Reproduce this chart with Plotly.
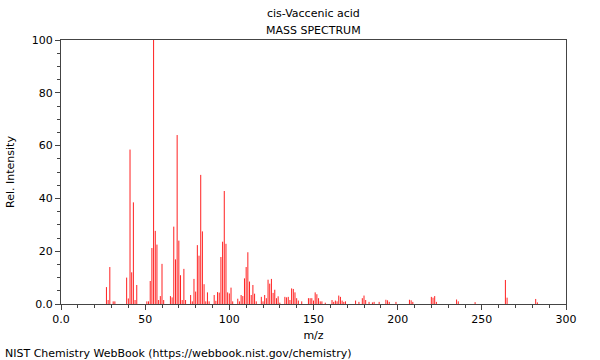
import plotly.graph_objects as go

title_main = "cis-Vaccenic acid"
title_sub = "MASS SPECTRUM"
footer = "NIST Chemistry WebBook (https://webbook.nist.gov/chemistry)"

mz = [27, 28, 29, 31, 32, 39, 40, 41, 42, 43, 44, 45, 51, 52, 53, 54, 55, 56, 57, 58,
      59, 60, 61, 65, 66, 67, 68, 69, 70, 71, 72, 73, 74, 77, 78, 79, 80, 81, 82, 83,
      84, 85, 86, 87, 88, 91, 92, 93, 94, 95, 96, 97, 98, 99, 100, 101, 102, 105, 106, 107,
      108, 109, 110, 111, 112, 113, 114, 115, 116, 119, 120, 121, 122, 123, 124, 125, 126, 127, 128, 129,
      130, 133, 134, 135, 136, 137, 138, 139, 140, 141, 143, 147, 148, 149, 150, 151, 152, 153, 154, 155,
      157, 161, 162, 163, 164, 165, 166, 167, 168, 169, 175, 177, 179, 180, 181, 183, 185, 186, 189, 193,
      194, 195, 199, 207, 208, 209, 220, 221, 222, 223, 235, 236, 246, 264, 265, 282, 283]
intensity = [6.4, 1.5, 14, 1, 1, 10, 2.1, 58.5, 12, 38.5, 1.5, 7.2, 1, 1, 8.7, 21.2, 100, 27.7, 22.5, 1.5,
             3, 15.2, 1.5, 3, 2.5, 29.3, 16.9, 64, 24, 10.9, 1.5, 13.3, 1.5, 3.4, 1, 9.5, 4.7, 22.3, 18.3, 48.9,
             27.5, 7.5, 1, 4.4, 1, 3.4, 1.2, 4.5, 4.3, 17.8, 23.6, 42.8, 22.8, 4.4, 4, 6.2, 1, 2, 1, 3.4,
             3, 9.7, 14, 19.6, 8.5, 3.4, 7.2, 3.9, 1, 2.7, 1, 3.4, 2.2, 9.2, 7.7, 9.5, 4.2, 5.4, 2.2, 2.9,
             0.5, 2.7, 2.5, 2.7, 1.5, 5.9, 5.7, 4.4, 2.2, 1.3, 1, 2.2, 2.2, 2.2, 1.3, 4.4, 3.7, 2.2, 1, 1,
             0.5, 1.5, 0.8, 1.3, 1, 3.2, 2.7, 1.3, 0.8, 1, 1.3, 0.8, 2.2, 3.2, 1.5, 0.8, 0.6, 0.8, 0.8, 1.6,
             1.4, 0.8, 0.8, 1.6, 1.4, 0.8, 2.7, 2.4, 3, 0.8, 1.7, 1, 0.7, 9.1, 2.4, 1.9, 0.6]

x_ticks = [0, 50, 100, 150, 200, 250, 300]
x_ticklabels = ["0.0", "50", "100", "150", "200", "250", "300"]
y_ticks = [0, 20, 40, 60, 80, 100]
y_ticklabels = ["0.0", "20", "40", "60", "80", "100"]

xs, ys = [], []
for m, v in zip(mz, intensity):
    xs += [m, m, None]
    ys += [0, v, None]

FONT = "DejaVu Sans"
L, R, T, B = 61, 34, 40, 56
W, H = 600, 360

fig = go.Figure()
fig.add_trace(go.Scatter(x=xs, y=ys, mode="lines",
                         line=dict(color="#ff2020", width=1),
                         hoverinfo="skip", showlegend=False))

axis_common = dict(showline=True, linecolor="#444444", linewidth=1, mirror=True,
                   showgrid=False, zeroline=False, ticks="outside", ticklen=5,
                   tickcolor="#444444", automargin=False,
                   tickfont=dict(family=FONT, size=11, color="#000000"))

fig.update_xaxes(range=[0, 300], tickvals=x_ticks, ticktext=x_ticklabels,
                 minor=dict(dtick=10, ticks="outside", ticklen=3, tickcolor="#444444"),
                 title=dict(text="m/z", font=dict(family=FONT, size=11, color="#000000"), standoff=6),
                 **axis_common)
fig.update_yaxes(range=[0, 100], tickvals=y_ticks, ticktext=y_ticklabels,
                 minor=dict(dtick=5, ticks="outside", ticklen=3, tickcolor="#444444"),
                 title=dict(text="Rel. Intensity", font=dict(family=FONT, size=11, color="#000000"), standoff=14),
                 **axis_common)

plot_w = W - L - R
plot_h = H - T - B
def px_to_paper(px, py):
    return (px - L) / plot_w, (H - B - py) / plot_h

a0 = px_to_paper(313.5, 13.5)
a1 = px_to_paper(313.5, 30)
a2 = px_to_paper(3, 353)

fig.update_layout(
    width=W, height=H,
    margin=dict(l=L, r=R, t=T, b=B),
    paper_bgcolor="white", plot_bgcolor="white",
    font=dict(family=FONT, size=11, color="#000000"),
    annotations=[
        dict(text=title_main, x=a0[0], y=a0[1], xref="paper", yref="paper",
             xanchor="center", yanchor="middle", showarrow=False),
        dict(text=title_sub, x=a1[0], y=a1[1], xref="paper", yref="paper",
             xanchor="center", yanchor="middle", showarrow=False),
        dict(text=footer, x=a2[0], y=a2[1], xref="paper", yref="paper",
             xanchor="left", yanchor="middle", showarrow=False),
    ],
)

fig.write_html("out.html", config={"displayModeBar": False},
               post_script="document.body.style.margin='0';")
